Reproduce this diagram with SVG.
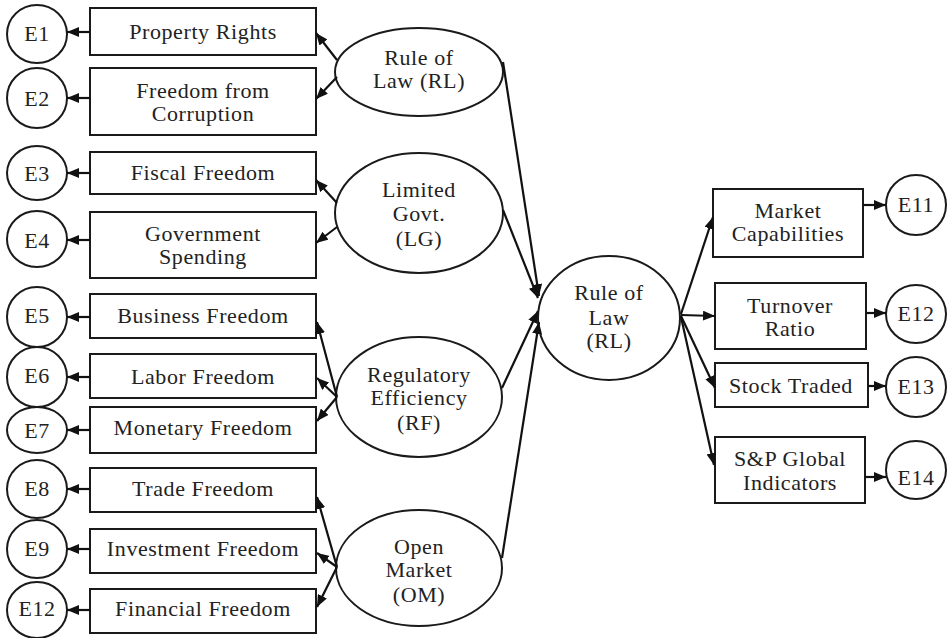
<svg xmlns="http://www.w3.org/2000/svg" width="947" height="638" viewBox="0 0 947 638">
<defs>
<marker id="ah" viewBox="0 0 12 10" refX="12" refY="5" markerWidth="12" markerHeight="10" markerUnits="userSpaceOnUse" orient="auto">
<path d="M0,0 L12,5 L0,10 z" fill="#111"/>
</marker>
</defs>
<style>
.n{fill:#fff;stroke:#1a1a1a;stroke-width:2}
.t{font-family:"Liberation Serif","Times New Roman",serif;font-size:22px;letter-spacing:0.6px;fill:#222;text-anchor:middle;dominant-baseline:central}
.c line{stroke:#111;stroke-width:2.2;marker-end:url(#ah)}
</style>
<rect width="947" height="638" fill="#fff"/>
<g id="E1"><ellipse class="n" cx="37" cy="34" rx="30" ry="29"/><text class="t" x="37" y="33">E1</text></g>
<g id="E2"><ellipse class="n" cx="37" cy="98" rx="30" ry="30"/><text class="t" x="37" y="98">E2</text></g>
<g id="E3"><ellipse class="n" cx="37" cy="173" rx="30" ry="27"/><text class="t" x="37" y="173">E3</text></g>
<g id="E4"><ellipse class="n" cx="37" cy="239" rx="30" ry="28"/><text class="t" x="37" y="240">E4</text></g>
<g id="E5"><ellipse class="n" cx="37" cy="317" rx="30" ry="30"/><text class="t" x="37" y="315">E5</text></g>
<g id="E6"><ellipse class="n" cx="37" cy="377" rx="30" ry="30"/><text class="t" x="37" y="375">E6</text></g>
<g id="E7"><ellipse class="n" cx="37" cy="430" rx="30" ry="23"/><text class="t" x="37" y="430">E7</text></g>
<g id="E8"><ellipse class="n" cx="37" cy="489" rx="30" ry="29"/><text class="t" x="37" y="488">E8</text></g>
<g id="E9"><ellipse class="n" cx="37" cy="549" rx="30" ry="29"/><text class="t" x="37" y="548">E9</text></g>
<g id="E12a"><ellipse class="n" cx="37" cy="610" rx="30" ry="28"/><text class="t" x="37" y="608">E12</text></g>

<g id="PR"><rect class="n" x="90" y="8" width="226" height="47"/><text class="t" x="203" y="31">Property Rights</text></g>
<g id="FC"><rect class="n" x="90" y="68" width="226" height="67"/><text class="t" x="203" y="90">Freedom from</text><text class="t" x="203" y="113">Corruption</text></g>
<g id="FF"><rect class="n" x="90" y="152" width="226" height="42"/><text class="t" x="203" y="172">Fiscal Freedom</text></g>
<g id="GS"><rect class="n" x="90" y="212" width="226" height="66"/><text class="t" x="203" y="233">Government</text><text class="t" x="203" y="256">Spending</text></g>
<g id="BF"><rect class="n" x="90" y="294" width="226" height="44"/><text class="t" x="203" y="315">Business Freedom</text></g>
<g id="LF"><rect class="n" x="90" y="354" width="226" height="44"/><text class="t" x="203" y="376">Labor Freedom</text></g>
<g id="MF"><rect class="n" x="90" y="407" width="226" height="46"/><text class="t" x="203" y="427">Monetary Freedom</text></g>
<g id="TF"><rect class="n" x="90" y="468" width="226" height="44"/><text class="t" x="203" y="488">Trade Freedom</text></g>
<g id="IF"><rect class="n" x="90" y="529" width="226" height="44"/><text class="t" x="203" y="548">Investment Freedom</text></g>
<g id="FiF"><rect class="n" x="90" y="589" width="226" height="44"/><text class="t" x="203" y="608">Financial Freedom</text></g>

<g id="RL1"><ellipse class="n" cx="419" cy="72" rx="84" ry="44"/><text class="t" x="419" y="57">Rule of</text><text class="t" x="419" y="80">Law (RL)</text></g>
<g id="LG"><ellipse class="n" cx="419" cy="213" rx="84" ry="60"/><text class="t" x="419" y="189">Limited</text><text class="t" x="419" y="213">Govt.</text><text class="t" x="419" y="238">(LG)</text></g>
<g id="RF"><ellipse class="n" cx="419" cy="397" rx="83" ry="60"/><text class="t" x="419" y="374">Regulatory</text><text class="t" x="419" y="397">Efficiency</text><text class="t" x="419" y="422">(RF)</text></g>
<g id="OM"><ellipse class="n" cx="419" cy="568" rx="83" ry="58"/><text class="t" x="419" y="546">Open</text><text class="t" x="419" y="569">Market</text><text class="t" x="419" y="594">(OM)</text></g>

<g id="RL2"><ellipse class="n" cx="609" cy="318" rx="71" ry="62"/><text class="t" x="609" y="292">Rule of</text><text class="t" x="609" y="317">Law</text><text class="t" x="609" y="340">(RL)</text></g>

<g id="MC"><rect class="n" x="713" y="189" width="150" height="68"/><text class="t" x="788" y="210">Market</text><text class="t" x="788" y="233">Capabilities</text></g>
<g id="TR"><rect class="n" x="715" y="283" width="151" height="66"/><text class="t" x="790" y="305">Turnover</text><text class="t" x="790" y="328">Ratio</text></g>
<g id="ST"><rect class="n" x="715" y="363" width="153" height="44"/><text class="t" x="791" y="385">Stock Traded</text></g>
<g id="SP"><rect class="n" x="715" y="437" width="150" height="66"/><text class="t" x="790" y="458">S&amp;P Global</text><text class="t" x="790" y="482">Indicators</text></g>

<g id="E11"><ellipse class="n" cx="916" cy="205" rx="30" ry="30"/><text class="t" x="916" y="204">E11</text></g>
<g id="E12"><ellipse class="n" cx="916" cy="314" rx="30" ry="29"/><text class="t" x="916" y="313">E12</text></g>
<g id="E13"><ellipse class="n" cx="916" cy="387" rx="30" ry="30"/><text class="t" x="916" y="386">E13</text></g>
<g id="E14"><ellipse class="n" cx="916" cy="470" rx="30" ry="29"/><text class="t" x="916" y="477">E14</text></g>

<g id="connectors" class="c">
<line x1="90" y1="32" x2="67" y2="32"/>
<line x1="90" y1="98" x2="67" y2="98"/>
<line x1="90" y1="173" x2="67" y2="173"/>
<line x1="90" y1="240" x2="67" y2="240"/>
<line x1="90" y1="317" x2="67" y2="317"/>
<line x1="90" y1="377" x2="67" y2="377"/>
<line x1="90" y1="430" x2="67" y2="430"/>
<line x1="90" y1="489" x2="67" y2="489"/>
<line x1="90" y1="549" x2="67" y2="549"/>
<line x1="90" y1="610" x2="67" y2="610"/>

<line x1="337" y1="60" x2="316" y2="33"/>
<line x1="337" y1="77" x2="316" y2="99"/>
<line x1="337" y1="203" x2="316" y2="180"/>
<line x1="337" y1="227" x2="316" y2="243"/>
<line x1="337" y1="397" x2="317" y2="322"/>
<line x1="337" y1="397" x2="317" y2="378"/>
<line x1="337" y1="397" x2="317" y2="421"/>
<line x1="337" y1="567" x2="317" y2="497"/>
<line x1="337" y1="567" x2="317" y2="553"/>
<line x1="337" y1="567" x2="317" y2="607"/>

<line x1="503" y1="62" x2="539" y2="296"/>
<line x1="503" y1="210" x2="538" y2="298"/>
<line x1="502" y1="388" x2="538" y2="311"/>
<line x1="502" y1="558" x2="539" y2="322"/>

<line x1="681" y1="314" x2="713" y2="217"/>
<line x1="681" y1="315" x2="715" y2="316"/>
<line x1="681" y1="316" x2="715" y2="388"/>
<line x1="681" y1="317" x2="714" y2="465"/>

<line x1="863" y1="205" x2="886" y2="205"/>
<line x1="866" y1="313" x2="886" y2="313"/>
<line x1="868" y1="386" x2="886" y2="386"/>
<line x1="865" y1="477" x2="886" y2="477"/>
</g>
</svg>
